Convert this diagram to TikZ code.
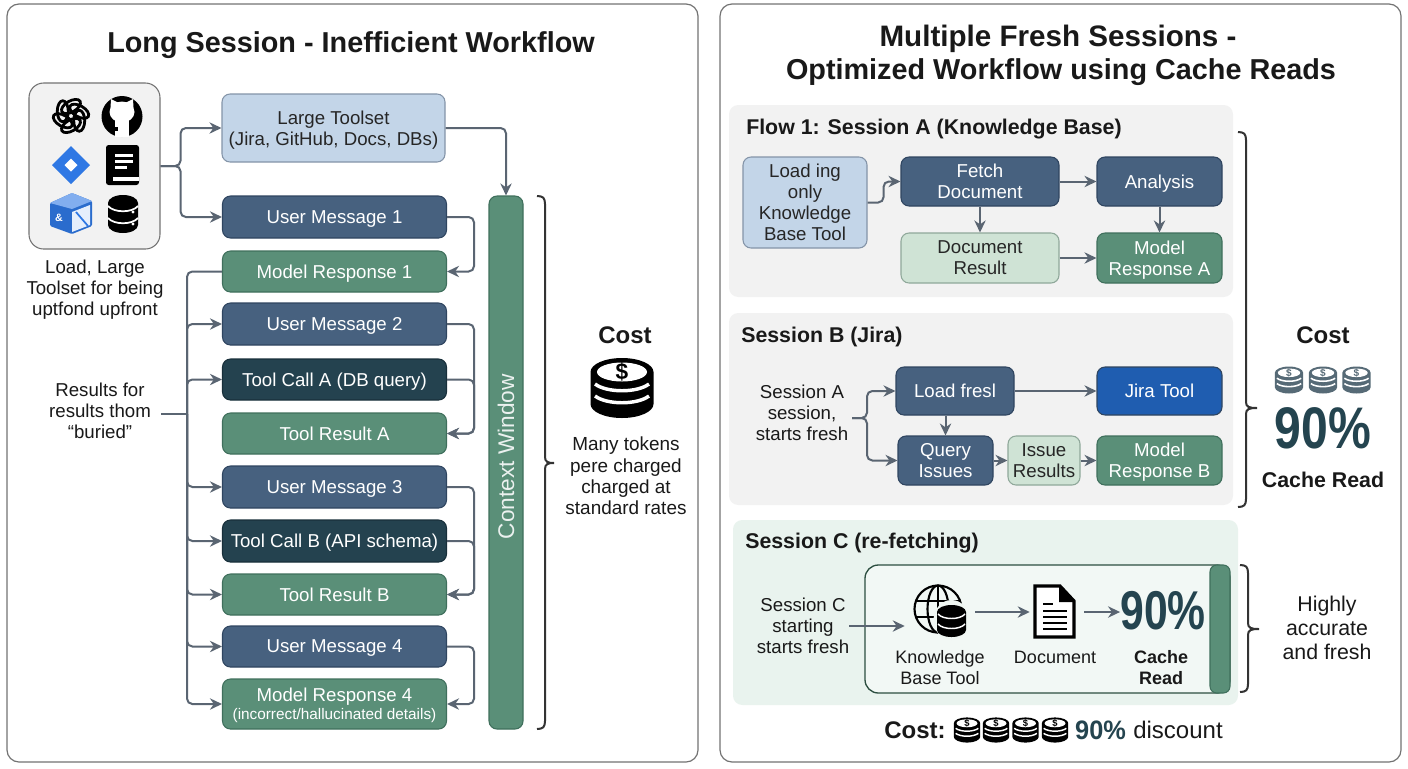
\documentclass[tikz,border=0pt]{standalone}
\usepackage{fontspec}
\setmainfont{Liberation Sans}
\usetikzlibrary{arrows.meta}
\definecolor{arrowgray}{HTML}{5A6572}
\definecolor{panelgray}{HTML}{F2F2F2}
\definecolor{panelgreen}{HTML}{E9F3EE}
\definecolor{bluedark}{HTML}{47617F}
\definecolor{blueedge}{HTML}{2F4560}
\definecolor{tealdark}{HTML}{24424F}
\definecolor{tealedge}{HTML}{182F3A}
\definecolor{greenmid}{HTML}{5A8F78}
\definecolor{greenedge}{HTML}{3F6F5C}
\definecolor{bluelight}{HTML}{C3D5E8}
\definecolor{bluelightedge}{HTML}{8494A8}
\definecolor{greenlight}{HTML}{CFE3D5}
\definecolor{greenlightedge}{HTML}{8FA89A}
\definecolor{jirablue}{HTML}{1F5DB0}
\definecolor{logoblue}{HTML}{2F78E4}
\definecolor{pctteal}{HTML}{24444F}
\definecolor{coinslate}{HTML}{566A76}
\newcommand{\boxfont}{\fontsize{14}{15.75}\selectfont}
\newcommand{\flowfont}{\fontsize{14}{15.75}\selectfont}
\newcommand{\headfont}{\fontsize{16}{18}\bfseries\selectfont}
\newcommand{\titlefont}{\fontsize{21.6}{25}\bfseries\selectfont}
\newcommand{\coinstack}[5]{
    \begin{scope}[shift={(#1,#2)},scale=#3]
        \fill[#4] (-31.5,-16) -- (-31.5,16) arc[start angle=180,end angle=0,x radius=31.5,y radius=14] -- (31.5,-16) arc[start angle=0,end angle=-180,x radius=31.5,y radius=14] -- cycle;
        \fill[white] (0,-16) ellipse[x radius=25,y radius=9.5];
        \draw[white,line width=#3*2.6pt] (-27,-4) .. controls (-15,5) and (15,5) .. (27,-4);
        \draw[white,line width=#3*2.6pt] (-27,8) .. controls (-15,17) and (15,17) .. (27,8);
        \node[inner sep=0,text=#4,font=\fontsize{#5}{#5}\bfseries\selectfont] (coin#1) at (0,-16) {\$};
    \end{scope}
}
\newcommand{\sidebrace}[6]{
    \draw[draw=#6,line width=1.5pt] (#1,#2) .. controls (#1+6,#2) and (#1+8,#2+2) .. (#1+8,#2+8) -- (#1+8,#3-6) .. controls (#1+8,#3-1) and (#1+11,#3) .. (#1+#5,#3) .. controls (#1+11,#3) and (#1+8,#3+1) .. (#1+8,#3+6) -- (#1+8,#4-8) .. controls (#1+8,#4-2) and (#1+6,#4) .. (#1,#4);
}
\tikzset{
    panel/.style={draw=black!55,line width=.9pt,fill=white,rounded corners=9pt},
    wh/.style 2 args={minimum width=#1*.75pt,minimum height=#2*.75pt},
    stepbox/.style={draw,line width=.8pt,rounded corners=6pt,inner sep=0,align=center,text depth=0pt},
    usermsg/.style={stepbox,fill=bluedark,draw=blueedge,text=white},
    toolcall/.style={stepbox,fill=tealdark,draw=tealedge,text=white},
    reply/.style={stepbox,fill=greenmid,draw=greenedge,text=white},
    lightblue/.style={stepbox,fill=bluelight,draw=bluelightedge,text=black!85},
    lightgreen/.style={stepbox,fill=greenlight,draw=greenlightedge,text=black!85},
    plaintext/.style={inner sep=0,align=center,text=black!90,text depth=0pt},
    flow/.style={draw=arrowgray,line width=1.5pt,rounded corners=4pt,-{Stealth[length=9pt,width=8.5pt]}},
    wire/.style={draw=arrowgray,line width=1.5pt,rounded corners=4pt}
}

\begin{document}
\begin{tikzpicture}[x=.75pt,y=-.75pt]
    \useasboundingbox (0,0) rectangle (1408,768);

    \draw[panel] (7,4) rectangle (698,762);
    \draw[panel] (720,4) rectangle (1401,762);
    \fill[panelgray,rounded corners=7pt] (729,105) rectangle (1233,297);
    \fill[panelgray,rounded corners=7pt] (729,313) rectangle (1233,505);
    \fill[panelgreen,rounded corners=7pt] (733,520) rectangle (1238,705);

    \node[plaintext,font=\titlefont] (titleL) at (351,42) {Long Session - Inefficient Workflow};
    \node[plaintext,font=\fontsize{22.2}{25}\bfseries\selectfont] (titleR) at (1058,36) {Multiple Fresh Sessions -};
    \node[plaintext,font=\titlefont] (titleRb) at (1061,69) {Optimized Workflow using Cache Reads};

    \node[draw=black!55,fill=panelgray,line width=.8pt,rounded corners=11pt,wh={131}{166}] (tools) at (94.5,166) {};
    \node[plaintext,font=\fontsize{14}{15.75}\selectfont] (toolsnote) at (95,288) {Load, Large\\Toolset for being\\uptfond upfront};

    \foreach \ang in {0,60,...,300}
        \draw[line width=2.1pt,shift={(71,116)},rotate=\ang,shift={(0,-9.5)},rotate=30] (0,0) ellipse[x radius=10.5,y radius=5.5];
    \fill[black] (122,116.5) circle (20.5);
    \fill[white] (122,112) ellipse[x radius=12.5,y radius=10.5];
    \fill[white] (110.5,108) -- (111,99) -- (119,103) -- cycle;
    \fill[white] (133.5,108) -- (133,99) -- (125,103) -- cycle;
    \fill[white] (115,120) rectangle (129,137);
    \fill[black] (113,127) -- (118,127) -- (118,131) -- (113,131) -- cycle;
    \fill[logoblue] (71,146) -- (90,165) -- (71,184) -- (52,165) -- cycle;
    \fill[white] (71,158.5) -- (77.5,165) -- (71,171.5) -- (64.5,165) -- cycle;
    \fill[black,rounded corners=2pt] (106,145) rectangle (139,185);
    \fill[white] (113,177) rectangle (139,180.5);
    \fill[white] (115,154) rectangle (133,156.5);
    \fill[white] (115,160) rectangle (133,162.5);
    \fill[white] (115,166) rectangle (127,168.5);
    \fill[logoblue!90!black,rounded corners=1pt] (50,203) -- (72,193) -- (92,201) -- (92,226) -- (72,234) -- (50,226) -- cycle;
    \fill[logoblue!60!white] (50,203) -- (72,193) -- (92,201) -- (72,209) -- cycle;
    \fill[white!88!logoblue] (72,212) -- (90,205) -- (90,225) -- (72,232) -- cycle;
    \draw[logoblue,line width=1.3pt] (76,212) -- (88,226);
    \node[inner sep=0,text=white,font=\fontsize{8}{8}\bfseries\selectfont] (boxmark) at (59,218) {\&};
    \fill[black] (108,203) -- (108,225) arc[start angle=180,end angle=0,x radius=15,y radius=8] -- (138,203) arc[start angle=0,end angle=-180,x radius=15,y radius=8] -- cycle;
    \draw[white,line width=1.3pt] (108,206) .. controls (114,213) and (132,213) .. (138,206);
    \draw[white,line width=1.3pt] (108,218) .. controls (114,225) and (132,225) .. (138,218);
    \fill[white] (133,212) circle (1.6) (133,224) circle (1.6);

    \begin{scope}[every node/.style={font=\boxfont}]
        \node[lightblue,wh={223}{68},font=\flowfont] (toolset) at (333.5,128) {Large Toolset\\(Jira, GitHub, Docs, DBs)};
        \node[usermsg,wh={224}{42}] (um1) at (334.5,217) {User Message 1};
        \node[reply,wh={224}{41}] (mr1) at (334.5,271.5) {Model Response 1};
        \node[usermsg,wh={224}{42}] (um2) at (334.5,324) {User Message 2};
        \node[toolcall,wh={224}{41}] (tca) at (334.5,379.5) {Tool Call A (DB query)};
        \node[reply,wh={224}{41}] (tra) at (334.5,433.5) {Tool Result A};
        \node[usermsg,wh={224}{42}] (um3) at (334.5,487) {User Message 3};
        \node[toolcall,wh={224}{42}] (tcb) at (334.5,541) {Tool Call B (API schema)};
        \node[reply,wh={224}{41}] (trb) at (334.5,594.5) {Tool Result B};
        \node[usermsg,wh={224}{41}] (um4) at (334.5,646.5) {User Message 4};
        \node[reply,wh={224}{50}] (mr4) at (334.5,704) {Model Response 4\\[-2pt]{\fontsize{11.5}{13}\selectfont (incorrect/hallucinated details)}};
    \end{scope}
    \node[reply,rotate=90,wh={533}{34},font=\fontsize{17}{18}\selectfont,text=white!88!greenmid] (ctx) at (506,462.5) {\hspace*{9pt}Context Window};

    \node[plaintext,font=\fontsize{14}{15.75}\selectfont] (results) at (100,411) {Results for\\results thom\\``buried''};
    \coordinate (busin) at (161,414);
    \coordinate (bus) at (187,414);
    \coordinate (rail) at (474,0);

    \draw[flow] (tools.east) -- ++(20,0) |- (toolset.west);
    \draw[flow] (tools.east) -- ++(20,0) |- (um1.west);
    \draw[flow] (toolset.east) -| (ctx.east);
    \draw[wire] (busin) -- (bus);
    \draw[wire] (mr1.west) -| (bus);
    \foreach \target in {um2,tca,um3,tcb,trb,um4,mr4}
        \draw[flow] (bus) |- (\target.west);
    \draw[flow] (um1.east) -- (um1.east -| rail) |- (mr1.east);
    \draw[flow] (um2.east) -- (um2.east -| rail) |- (tra.east);
    \draw[flow] (tca.east) -- (tca.east -| rail) |- (tra.east);
    \draw[flow] (um3.east) -- (um3.east -| rail) |- (trb.east);
    \draw[flow] (tcb.east) -- (tcb.east -| rail) |- (trb.east);
    \draw[flow] (um4.east) -- (um4.east -| rail) |- (mr4.east);

    \sidebrace{537}{196}{463}{729}{17}{black!80}
    \node[plaintext,font=\fontsize{18}{20}\bfseries\selectfont] (costL) at (625,335) {Cost};
    \coinstack{622}{388}{1}{black}{17}
    \node[plaintext,font=\fontsize{14.2}{16}\selectfont] (costnote) at (626,476) {Many tokens\\pere charged\\charged at\\standard rates};

    \node[plaintext,anchor=west,font=\headfont] (headA) at (746,127) {Flow 1: Session A (Knowledge Base)};
    \node[plaintext,anchor=west,font=\headfont] (headB) at (741,335) {Session B (Jira)};
    \node[plaintext,anchor=west,font=\headfont] (headC) at (745,541) {Session C (re-fetching)};

    \begin{scope}[every node/.style={font=\flowfont}]
        \node[lightblue,wh={124}{91}] (loadkb) at (805,202.5) {Load ing\\only\\Knowledge\\Base Tool};
        \node[usermsg,wh={158}{49}] (fetch) at (980,181.5) {Fetch\\Document};
        \node[usermsg,wh={125}{49}] (analysis) at (1159.5,181.5) {Analysis};
        \node[lightgreen,wh={158}{50}] (docres) at (980,258) {Document\\Result};
        \node[reply,wh={125}{50}] (respA) at (1159.5,258) {Model\\Response A};

        \node[plaintext] (sessb) at (802,413) {Session A\\session,\\starts fresh};
        \node[usermsg,wh={118}{48}] (loadfr) at (955,391) {Load fresl};
        \node[usermsg,wh={125}{48},fill=jirablue,draw=blueedge] (jira) at (1159.5,391) {Jira Tool};
        \node[usermsg,wh={95}{49}] (query) at (945.5,460.5) {Query\\Issues};
        \node[lightgreen,wh={72}{49}] (issue) at (1044,460.5) {Issue\\Results};
        \node[reply,wh={125}{49}] (respB) at (1159.5,460.5) {Model\\Response B};

        \node[plaintext] (sessc) at (803,626) {Session C\\starting\\starts fresh};
    \end{scope}
    \coordinate (sessbout) at (852,418);

    \draw[flow] (loadkb.east) -- ++(16,0) |- (fetch.west);
    \draw[flow] (fetch.east) -- (analysis.west);
    \draw[flow] (fetch.south) -- (docres.north);
    \draw[flow] (analysis.south) -- (respA.north);
    \draw[flow] (docres.east) -- (respA.west);
    \draw[flow] (sessbout) -- ++(15,0) |- (loadfr.west);
    \draw[flow] (sessbout) -- ++(15,0) |- (query.west);
    \draw[flow] (loadfr.east) -- (jira.west);
    \draw[flow] (query.north |- loadfr.south) -- (query.north);
    \draw[flow] (query.east) -- (issue.west);
    \draw[flow] (issue.east) -- (respB.west);

    \draw[draw=greenedge!70!black,line width=1pt,fill=panelgreen!60!white,rounded corners=10pt] (865,565) rectangle (1230,693);
    \node[reply,wh={20}{128},rounded corners=5pt] (cachebar) at (1220,629) {};

    \node[inner sep=0,wh={70}{56}] (globe) at (940,612) {};
    \node[inner sep=0,wh={54}{54}] (docicon) at (1057,612) {};
    \begin{scope}[line width=1.6pt]
        \draw (938,609) circle (23.5);
        \draw (938,609) ellipse[x radius=10.5,y radius=23.5];
        \draw (938,585.5) -- (938,632.5);
        \draw (915.5,601) -- (960.5,601) (915.5,617) -- (960.5,617);
    \end{scope}
    \fill[panelgreen!70!white] (951.5,620) ellipse[x radius=18,y radius=20];
    \fill[black] (937,612) -- (937,630) arc[start angle=180,end angle=0,x radius=14.5,y radius=7] -- (966,612) arc[start angle=0,end angle=-180,x radius=14.5,y radius=7] -- cycle;
    \draw[white,line width=1.1pt] (938,614) .. controls (943,620) and (960,620) .. (965,614);
    \draw[white,line width=1.1pt] (938,624) .. controls (943,630) and (960,630) .. (965,624);
    \draw[line width=2.4pt,fill=white,line join=miter] (1035,586) -- (1060,586) -- (1074,601) -- (1074,637) -- (1035,637) -- cycle;
    \fill[black] (1059,586) -- (1059,602) -- (1074,602) -- cycle;
    \draw[line width=1.6pt] (1043,604) -- (1053,604) (1043,611) -- (1067,611) (1043,617) -- (1067,617) (1043,623) -- (1067,623) (1043,629) -- (1067,629);

    \node[plaintext,text=pctteal,font=\fontsize{41}{41}\bfseries\selectfont] (pctC) at (1163,610) {\scalebox{.78}[1]{90\%}};
    \draw[flow] (globe.east) -- (docicon.west);
    \draw[flow] (docicon.east) -- (docicon.east -| pctC.west);
    \draw[flow] (sessc.east) -- (sessc.east -| globe.west);

    \node[plaintext,font=\fontsize{13.5}{15.75}\selectfont] (kblabel) at (940,667.5) {Knowledge\\Base Tool};
    \node[plaintext,font=\fontsize{13.5}{15.75}\selectfont] (doclabel) at (1055,657) {Document};
    \node[plaintext,font=\fontsize{13.5}{15.75}\bfseries\selectfont] (cachelabel) at (1161,667.5) {Cache\\Read};

    \sidebrace{1238}{132}{408}{507}{19}{black!80}
    \node[plaintext,font=\fontsize{18}{20}\bfseries\selectfont] (costR) at (1323,335) {Cost};
    \coinstack{1289}{380}{.45}{coinslate}{7.5}
    \coinstack{1323}{380}{.45}{coinslate}{7.5}
    \coinstack{1356.5}{380}{.45}{coinslate}{7.5}
    \node[plaintext,text=pctteal,font=\fontsize{44}{44}\bfseries\selectfont] (pctR) at (1323,428) {\scalebox{.82}[1]{90\%}};
    \node[plaintext,font=\fontsize{16}{20}\bfseries\selectfont] (cacheR) at (1323,480) {Cache Read};

    \sidebrace{1240}{565}{629}{692}{19}{black!80}
    \node[plaintext,font=\fontsize{16}{18}\selectfont] (accurate) at (1327,628) {Highly\\accurate\\and fresh};

    \node[plaintext,font=\fontsize{18}{20}\bfseries\selectfont] (costB) at (915,730) {Cost:};
    \coinstack{967}{730}{.42}{black}{7}
    \coinstack{996}{730}{.42}{black}{7}
    \coinstack{1025.5}{730}{.42}{black}{7}
    \coinstack{1055}{730}{.42}{black}{7}
    \node[plaintext,text=pctteal,font=\fontsize{20}{20}\bfseries\selectfont] (pctB) at (1100.5,730) {\scalebox{.95}[1]{90\%}};
    \node[plaintext,font=\fontsize{18}{20}\selectfont] (discount) at (1178,730) {discount};
\end{tikzpicture}
\end{document}
